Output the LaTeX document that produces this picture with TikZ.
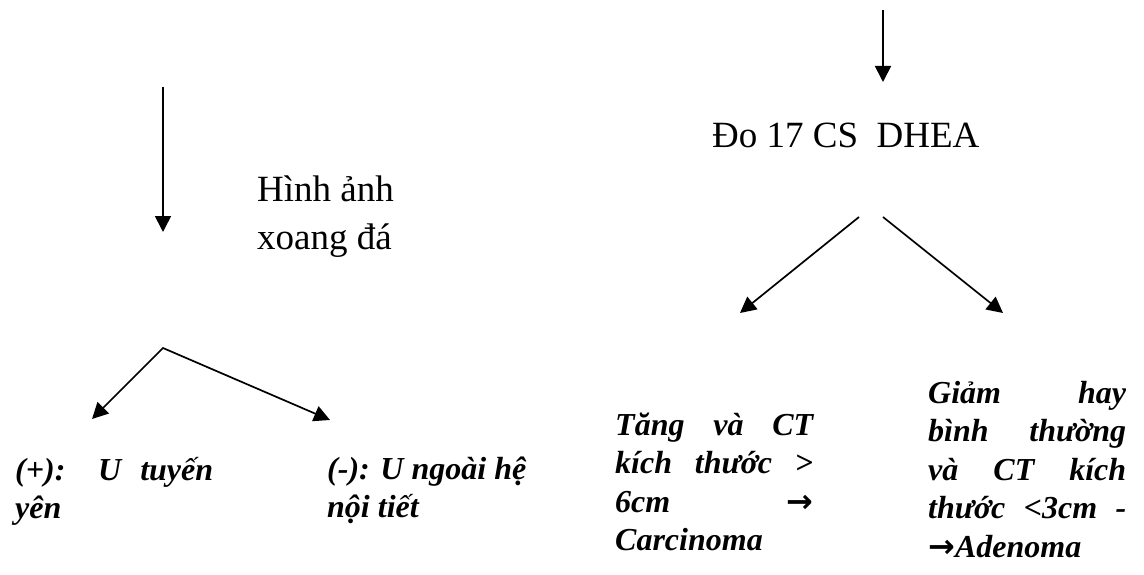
\documentclass[tikz,border=0pt]{standalone}
\usepackage{fontspec}
\setmainfont{Liberation Serif}
\newfontfamily\arrowfont{DejaVu Sans}
\usetikzlibrary{arrows.meta}
\tikzset{>={Triangle[length=16pt,width=16pt]},
 flow/.style={->,line width=1.7pt},
 plaintext/.style={anchor=base west,inner sep=0pt,font=\fontsize{37}{48}\selectfont},
 boldnote/.style={anchor=base west,inner sep=0pt,font=\fontsize{32}{38.5}\selectfont\bfseries\itshape}}
\newcommand{\jline}[1]{\makebox[198pt][s]{#1}}
\newcommand{\fatarrow}{{\arrowfont\bfseries\upshape →}}

\begin{document}
\begin{tikzpicture}[x=1pt,y=-1pt]
\useasboundingbox (0,0) rectangle (1144,575);
% left branch
\coordinate (imgTop) at (163,87);
\coordinate (imgEnd) at (163,232);
\coordinate (split) at (163,348);
\coordinate (posEnd) at (92,419);
\coordinate (negEnd) at (330,420);
\node[plaintext] (img) at (257,201) {\parbox[t]{200pt}{Hình ảnh\\xoang đá}};
\node[boldnote] (pos) at (15,480) {\parbox[t]{198pt}{\jline{(+): U tuyến}\\yên}};
\node[boldnote] (neg) at (327,479) {\parbox[t]{210pt}{(-): U ngoài hệ\\nội tiết}};
\draw[flow] (imgTop)--(imgEnd);
\draw[flow,<->] (posEnd)--(split)--(negEnd);
% right branch
\coordinate (dheaTop) at (883,10);
\coordinate (dheaEnd) at (883,82);
\coordinate (upStart) at (859,217);
\coordinate (upEnd) at (740,313);
\coordinate (lowStart) at (883,217);
\coordinate (lowEnd) at (1003,313);
\node[plaintext] (dhea) at (712,148) {Đo 17 CS \ DHEA};
\node[boldnote] (carc) at (615,435) {\parbox[t]{198pt}{\jline{Tăng và CT}\\
 \jline{kích thước >}\\ \jline{6cm \hfill\fatarrow}\\ Carcinoma}};
\node[boldnote] (aden) at (928,403) {\parbox[t]{198pt}{\jline{Giảm hay}\\
 \jline{bình thường}\\ \jline{và CT kích}\\ \jline{thước <3cm -}\\ \fatarrow Adenoma}};
\draw[flow] (dheaTop)--(dheaEnd);
\draw[flow] (upStart)--(upEnd);
\draw[flow] (lowStart)--(lowEnd);
\end{tikzpicture}
\end{document}
